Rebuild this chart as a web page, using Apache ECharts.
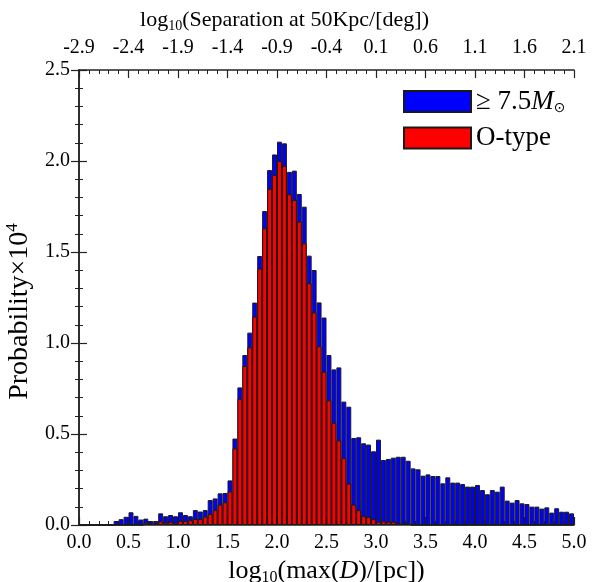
<!DOCTYPE html>
<html><head><meta charset="utf-8">
<script src="https://cdn.jsdelivr.net/npm/echarts@6/dist/echarts.min.js"></script>
<style>html,body{margin:0;padding:0;background:#fff}#c{width:592px;height:582px}</style>
</head><body><div id="c"></div>
<script>
// bin left edges of log10(max(D)/[pc]), width 0.05
const binLeft = ['0.00','0.05','0.10','0.15','0.20','0.25','0.30','0.35','0.40','0.45',
'0.50','0.55','0.60','0.65','0.70','0.75','0.80','0.85','0.90','0.95',
'1.00','1.05','1.10','1.15','1.20','1.25','1.30','1.35','1.40','1.45',
'1.50','1.55','1.60','1.65','1.70','1.75','1.80','1.85','1.90','1.95',
'2.00','2.05','2.10','2.15','2.20','2.25','2.30','2.35','2.40','2.45',
'2.50','2.55','2.60','2.65','2.70','2.75','2.80','2.85','2.90','2.95',
'3.00','3.05','3.10','3.15','3.20','3.25','3.30','3.35','3.40','3.45',
'3.50','3.55','3.60','3.65','3.70','3.75','3.80','3.85','3.90','3.95',
'4.00','4.05','4.10','4.15','4.20','4.25','4.30','4.35','4.40','4.45',
'4.50','4.55','4.60','4.65','4.70','4.75','4.80','4.85','4.90','4.95'];

// >= 7.5 Msun
const massiveProb = [0,0,0,0,0,0,0,0.022,0.032,0.045,
0.070,0.050,0.030,0.035,0.022,0.022,0.064,0.048,0.055,0.048,
0.070,0.055,0.048,0.082,0.074,0.082,0.137,0.146,0.174,0.176,
0.245,0.475,0.756,0.934,1.057,1.222,1.478,1.725,1.950,2.036,
2.106,2.097,1.940,1.947,1.819,1.749,1.480,1.401,1.223,1.140,
0.934,0.855,0.866,0.678,0.650,0.478,0.482,0.449,0.442,0.405,
0.469,0.357,0.363,0.370,0.375,0.375,0.353,0.311,0.306,0.271,
0.278,0.269,0.269,0.229,0.262,0.233,0.233,0.225,0.211,0.211,
0.220,0.192,0.169,0.192,0.183,0.211,0.134,0.123,0.137,0.119,
0.115,0.101,0.101,0.090,0.097,0.068,0.092,0.073,0.073,0.064];

// O-type
const oTypeProb = [0,0,0,0,0,0,0,0,0,0,
0,0,0,0.013,0.011,0.011,0.020,0.013,0.018,0.012,
0.022,0.022,0.026,0.033,0.033,0.047,0.060,0.082,0.112,0.125,
0.184,0.421,0.694,0.874,0.976,1.145,1.409,1.630,1.848,1.923,
2.000,1.973,1.817,1.786,1.667,1.548,1.328,1.168,0.982,0.842,
0.685,0.562,0.465,0.368,0.227,0.112,0.082,0.049,0.044,0.032,
0.018,0.020,0.018,0.018,0.009,0.009,0.009,0,0,0,
0,0,0,0,0,0,0,0,0,0,
0,0,0,0,0,0,0,0,0,0,
0,0,0,0,0,0,0,0,0,0];

const bottomTickLabels = ['0.0','0.5','1.0','1.5','2.0','2.5','3.0','3.5','4.0','4.5','5.0'];
const topTickLabels = ['-2.9','-2.4','-1.9','-1.4','-0.9','-0.4','0.1','0.6','1.1','1.6','2.1'];
const yTickLabels = ['0.0','0.5','1.0','1.5','2.0','2.5'];

const FONT = 'Liberation Serif';
const AX = '#222';
const tickIdx = v => Math.round(v / 0.5);

const chart = echarts.init(document.getElementById('c'), null, {renderer: 'canvas'});
const baseAxis = {
  axisLine: {show: true, lineStyle: {color: AX, width: 1.5}},
  axisTick: {show: true, inside: true, length: 8, lineStyle: {color: AX, width: 1.2}},
  minorTick: {show: true, splitNumber: 5, length: 4, lineStyle: {color: AX, width: 1}},
  splitLine: {show: false},
  minorSplitLine: {show: false}
};
const richFor = (fs) => ({
  sub: {fontFamily: FONT, fontSize: Math.round(fs * 0.62), color: '#000', padding: [Math.round(fs * 0.55), 0, 0, 0]},
  it: {fontFamily: FONT, fontSize: fs, fontStyle: 'italic', color: '#000'},
  sup: {fontFamily: FONT, fontSize: Math.round(fs * 0.62), color: '#000', padding: [0, 0, Math.round(fs * 0.55), 0]}
});
chart.setOption({
  animation: false,
  backgroundColor: '#fff',
  grid: {left: 79, right: 18, top: 70, bottom: 57, containLabel: false, outerBoundsMode: 'none'},
  legend: {
    data: ['massive', 'otype'],
    orient: 'vertical', left: 403, top: 88, padding: 0,
    itemWidth: 67, itemHeight: 21, itemGap: 9,
    icon: 'rect',
    formatter: n => n === 'massive' ? '{n|≥ 7.5}{i|M}{s|⊙}' : '{n|O-type}',
    textStyle: {
      fontFamily: FONT, fontSize: 27, color: '#000',
      rich: {
        n: {fontFamily: FONT, fontSize: 27, color: '#000'},
        i: {fontFamily: FONT, fontSize: 27, fontStyle: 'italic', color: '#000'},
        s: {fontFamily: 'DejaVu Sans', fontSize: 14, color: '#000', padding: [14, 0, 0, 0]}
      }
    }
  },
  xAxis: [
    {type: 'category', data: binLeft, show: false, boundaryGap: true},
    Object.assign({}, baseAxis, {
      type: 'value', position: 'bottom', min: 0, max: 5, interval: 0.5,
      axisLabel: {fontFamily: FONT, fontSize: 20, color: '#000', margin: 8,
        formatter: v => bottomTickLabels[tickIdx(v)]},
      name: 'log{sub|10}(max({it|D})/[pc])', nameLocation: 'middle', nameGap: 25,
      nameTextStyle: {fontFamily: FONT, fontSize: 26, color: '#000', rich: richFor(26)}
    }),
    Object.assign({}, baseAxis, {
      type: 'value', position: 'top', min: 0, max: 5, interval: 0.5,
      axisLabel: {fontFamily: FONT, fontSize: 20, color: '#000', margin: 12,
        formatter: v => topTickLabels[tickIdx(v)]},
      name: 'log{sub|10}(Separation at 50Kpc/[deg])', nameLocation: 'middle', nameGap: 37,
      nameTextStyle: {fontFamily: FONT, fontSize: 22, color: '#000', rich: richFor(22), padding: [0, 84, 0, 0]}
    })
  ],
  yAxis: [
    Object.assign({}, baseAxis, {
      type: 'value', position: 'left', min: 0, max: 2.5, interval: 0.5,
      axisLabel: {fontFamily: FONT, fontSize: 20, color: '#000', margin: 9,
        formatter: v => yTickLabels[tickIdx(v)]},
      name: 'Probability×10{sup|4}', nameLocation: 'middle', nameGap: 42,
      nameTextStyle: {fontFamily: FONT, fontSize: 28, color: '#000', rich: richFor(28), padding: [0, 28, 0, 0]}
    }),
    Object.assign({}, baseAxis, {
      type: 'value', position: 'right', min: 0, max: 2.5, interval: 0.5,
      axisLabel: {show: false}
    })
  ],
  series: [
    {name: 'massive', type: 'bar', xAxisIndex: 0, yAxisIndex: 0, data: massiveProb,
     barGap: '-100%', barCategoryGap: '0%',
     itemStyle: {color: '#0000ff', borderColor: '#1a1a1a', borderWidth: 1}},
    {name: 'otype', type: 'bar', xAxisIndex: 0, yAxisIndex: 0, data: oTypeProb,
     barGap: '-100%', barCategoryGap: '0%',
     itemStyle: {color: '#ff0000', borderColor: '#1a1a1a', borderWidth: 1}}
  ]
});
</script></body></html>
